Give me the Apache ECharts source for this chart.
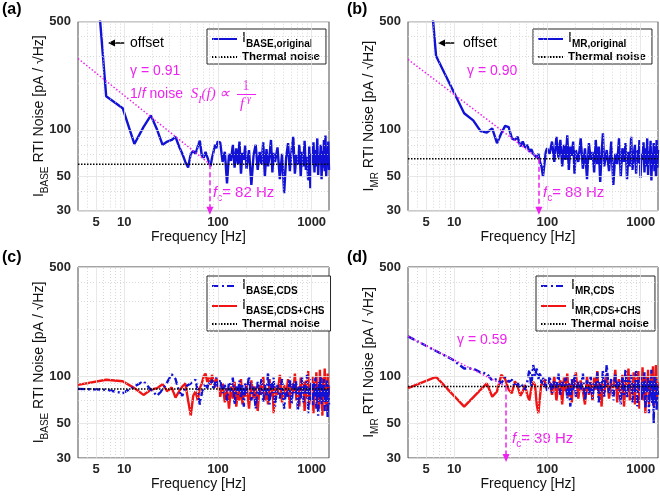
<!DOCTYPE html>
<html><head><meta charset="utf-8">
<script src="https://cdn.jsdelivr.net/npm/echarts@6/dist/echarts.min.js"></script>
<style>html,body{margin:0;padding:0;background:#fff}#c{width:660px;height:499px}</style>
</head><body><div id="c"></div>
<script>
// ---------- DATA ----------
const freq = [3.2,6.4,9.6,12.8,16,19.2,22.4,25.6,28.8,32,35.2,38.4,41.6,44.8,48,51.2,54.4,57.6,60.8,64,67.2,70.4,73.6,76.8,80,83.2,86.4,89.6,92.8,96,99.2,
105.6,112,118.4,124.8,131.2,137.6,144,150.4,156.8,163.2,169.6,176,182.4,188.8,195.2,201.6,
214.4,227.2,240,252.8,265.6,278.4,291.2,304,316.8,329.6,342.4,355.2,368,380.8,393.6,406.4,
432,457.6,483.2,508.8,534.4,560,585.6,611.2,636.8,662.4,688,713.6,739.2,764.8,790.4,816,841.6,867.2,892.8,918.4,944,969.6,995.2,1020.8,1046.4,1072,1097.6,1123.2,1148.8,1174.4,1200,1225.6,1251.2,1276.8,1302.4,1328,1353.6,1379.2,1404.8,1430.4,1456,1481.6,1507.2,1532.8];

const aOriginal = [30000,165,138,81,104,124,100,80,84,86,90,78,70,62,57,70,73,70,78,85,68,66,72,71,62,58,66,72,80,76,84,
83,62,72,45,70,63,80,57,76,60,84,52,71,64,79,56,
74,44,69,80,55,72,60,83,50,75,58,68,86,53,71,62,
77,48,70,39,66,82,54,74,90,52,69,60,80,50,72,58,85,55,67,47,78,42,70,61,83,53,74,58,88,51,69,62,80,48,73,57,86,54,92,50,72,59,84,55];

const bOriginal = [40000,300,182,128,115,98,96,102,82,95,106,104,88,86,90,78,84,77,80,72,75,70,72,66,70,62,58,50,60,72,76,
70,84,62,90,66,86,58,80,64,92,55,78,68,84,52,74,
62,88,56,76,48,82,64,72,53,86,60,78,46,70,95,58,
74,54,84,44,70,60,88,50,76,62,82,48,72,58,90,55,68,80,52,74,61,86,49,70,64,83,53,76,58,88,51,73,63,85,47,71,60,82,54,78,50,86,57,74];

const cCDS = [83,82,78,86,93,82,75,82,92,103,96,80,75,85,88,90,93,95,80,66,78,86,90,84,92,88,95,82,90,98,86,
95,78,88,70,92,80,98,66,86,76,94,72,88,64,90,78,
100,70,86,62,92,76,96,68,88,74,106,66,90,78,98,64,
88,72,96,62,84,74,100,66,90,78,94,60,86,72,98,68,88,76,102,58,84,70,96,64,90,74,98,62,86,56,92,72,100,66,88,78,96,60,84,70,94,54,88,66];

const cCHS = [88,95,93,84,76,82,84,89,80,85,73,80,86,90,70,56,75,80,70,84,90,100,104,92,98,88,102,94,85,97,90,
74,90,68,84,62,86,72,92,64,82,70,96,66,80,74,90,
62,94,72,86,60,88,76,100,70,84,66,96,74,90,58,86,
76,102,68,88,74,96,62,90,78,104,70,86,64,98,80,92,60,94,72,108,66,88,76,100,58,92,74,106,68,84,62,110,72,94,56,98,80,112,66,90,60,104,74,86];

const dCDS = [180,145,128,112,112,106,104,94,96,90,99,92,95,86,90,84,88,82,92,110,86,118,100,112,96,106,90,98,86,95,80,
100,78,94,84,104,76,92,86,98,72,90,64,96,80,102,74,
92,82,104,70,94,78,100,72,90,84,106,68,92,80,110,74,
118,78,96,70,104,82,92,66,100,76,112,72,94,84,102,68,90,78,108,64,96,82,100,70,92,76,106,62,88,80,98,58,94,74,110,66,90,50,102,72,96,60,88,76];

const dCHS = [84,99,null,64,null,null,90,74,80,102,96,82,78,93,86,75,80,88,76,70,84,92,88,66,58,74,92,88,96,84,90,
92,76,100,70,88,94,66,98,80,104,74,90,68,96,84,106,
72,94,80,66,100,76,92,70,98,82,108,74,90,64,96,78,
104,72,92,84,110,68,96,78,102,64,94,86,112,70,90,76,106,66,98,82,108,62,92,74,114,70,96,58,100,80,110,66,94,76,104,72,116,64,98,80,118,70,92,84];

const thermalLevels = [60, 65, 83, 86];
const fitA = [[3.2, 289], [82, 60]];
const fitB = [[3.2, 285], [81, 65]];
const fitD = [[3.2, 180], [36, 86]];
const fcMarkX = [82, 81, null, 36];
const fcLabels = ['= 82 Hz', '= 88 Hz', null, '= 39 Hz'];
const gammaLabels = ['γ = 0.91', 'γ = 0.90', null, 'γ = 0.59'];

const xTickValues = [5, 10, 100, 1000];
const xTickLabels = ['5', '10', '100', '1000'];
const xMinorValues = [4,6,7,8,9,20,30,40,50,60,70,80,90,200,300,400,500,600,700,800,900];
const yTickValues = [30, 50, 100, 500];
const yTickLabels = ['30', '50', '100', '500'];
const yMinorValues = [40,60,70,80,90,200,300,400];

const X_MIN = 3.2, X_MAX = 1532.8, Y_MIN = 30, Y_MAX = 500;

// ---------- STYLE ----------
const BLUE = '#1212d6', RED = '#f01414', MAG = '#ee22ee', INK = '#262626';
const FONT = 'Liberation Sans';

const panels = [
  {grid:{left:78, top:21.7, width:251, height:189}, sub:'BASE', legendPos:{left:207, top:29},
   series:[{name:'I_BASE,original', data:aOriginal, color:BLUE, dash:'solid'}], fit:fitA},
  {grid:{left:408, top:21.7, width:250, height:189}, sub:'MR', legendPos:{left:533, top:29},
   series:[{name:'I_MR,original', data:bOriginal, color:BLUE, dash:'solid'}], fit:fitB},
  {grid:{left:78, top:267, width:251, height:191}, sub:'BASE', legendPos:{left:207, top:276},
   series:[{name:'I_BASE,CDS+CHS', data:cCHS, color:RED, dash:'solid', z:3},
           {name:'I_BASE,CDS', data:cCDS, color:BLUE, dash:[7,3,2,3], z:4}], fit:null,
   legendOrder:['I_BASE,CDS','I_BASE,CDS+CHS']},
  {grid:{left:408, top:267, width:250, height:191}, sub:'MR', legendPos:{left:536, top:276},
   series:[{name:'I_MR,CDS+CHS', data:dCHS, color:RED, dash:'solid', z:3},
           {name:'I_MR,CDS', data:dCDS, color:BLUE, dash:[7,3,2,3], z:4}], fit:fitD,
   legendOrder:['I_MR,CDS','I_MR,CDS+CHS']}
];

const grids = [], xAxes = [], yAxes = [], series = [], legends = [];

function gridMarkData() {
  const d = [];
  xMinorValues.forEach(v => d.push({xAxis:v, lineStyle:{color:'#cfcfcf', type:[1,2], width:0.8}, label:{show:false}}));
  yMinorValues.forEach(v => d.push({yAxis:v, lineStyle:{color:'#cfcfcf', type:[1,2], width:0.8}, label:{show:false}}));
  xTickValues.forEach((v,k) => d.push({xAxis:v, lineStyle:{color:'#e2e2e2', type:'solid', width:0.8},
    label:{show:true, position:'start', distance:5, formatter:xTickLabels[k], color:INK, fontWeight:'bold', fontSize:13, fontFamily:FONT}}));
  yTickValues.forEach((v,k) => d.push({yAxis:v, lineStyle:{color:'#e2e2e2', type:'solid', width:0.8},
    label:{show:true, position:'start', distance:7, formatter:yTickLabels[k], color:INK, fontWeight:'bold', fontSize:13, fontFamily:FONT}}));
  return d;
}

const legendRich = {
  i:{fontSize:14, fontWeight:'normal', lineHeight:16, verticalAlign:'top', color:'#000', fontFamily:FONT},
  s:{fontSize:10, fontWeight:'bold', lineHeight:10, padding:[8,0,0,0], verticalAlign:'top', color:'#000', fontFamily:FONT},
  t:{fontSize:11.5, fontWeight:'bold', lineHeight:18, color:'#000', fontFamily:FONT}
};

panels.forEach((p, i) => {
  grids.push(Object.assign({show:true, borderColor:'#4a4a4a', borderWidth:1, backgroundColor:'#fff', containLabel:false}, p.grid));
  xAxes.push({type:'log', logBase:10, gridIndex:i, min:X_MIN, max:X_MAX,
    axisLine:{show:false}, axisTick:{show:false}, axisLabel:{show:false}, splitLine:{show:false},
    name:'Frequency [Hz]', nameLocation:'middle', nameGap:19,
    nameTextStyle:{fontSize:14, color:'#111', fontFamily:FONT, padding:[0,10,0,0]}});
  yAxes.push({type:'log', logBase:10, gridIndex:i, min:Y_MIN, max:Y_MAX,
    axisLine:{show:false}, axisTick:{show:false}, axisLabel:{show:false}, splitLine:{show:false},
    name:'{i|I}{s|' + p.sub + '}{t| RTI Noise [pA / √Hz]}', nameLocation:'middle', nameGap:30,
    nameTextStyle:{rich:{
      i:{fontSize:14, lineHeight:16, verticalAlign:'top', color:'#111', fontFamily:FONT},
      s:{fontSize:10, lineHeight:10, padding:[8,0,0,0], verticalAlign:'top', color:'#111', fontFamily:FONT},
      t:{fontSize:14, lineHeight:16, verticalAlign:'top', color:'#111', fontFamily:FONT}}}});

  // grid lines + tick labels
  series.push({type:'line', xAxisIndex:i, yAxisIndex:i, data:[[X_MIN, Y_MIN]], symbol:'none', silent:true, z:1,
    clip:false, lineStyle:{width:0}, tooltip:{show:false},
    markLine:{silent:true, symbol:['none','none'], animation:false, data:gridMarkData()}});

  p.series.forEach(s => {
    series.push({type:'line', name:s.name, xAxisIndex:i, yAxisIndex:i, z:s.z || 3,
      data:freq.map((f, k) => [f, s.data[k]]), symbol:'none', connectNulls:true,
      lineStyle:{color:s.color, width:2.4, type:s.dash}, itemStyle:{color:s.color}});
  });

  series.push({type:'line', name:'Thermal noise', xAxisIndex:i, yAxisIndex:i, z:6,
    data:[[X_MIN, thermalLevels[i]], [X_MAX, thermalLevels[i]]], symbol:'none',
    lineStyle:{color:'#000', width:1.5, type:[1.5,1.5]}, itemStyle:{color:'#000'}});

  if (p.fit) {
    series.push({type:'line', name:'fit' + i, xAxisIndex:i, yAxisIndex:i, z:5, data:p.fit, symbol:'none',
      lineStyle:{color:MAG, width:1.5, type:[1.5,2]}, itemStyle:{color:MAG},
      markLine:{silent:true, animation:false, symbol:['none','triangle'], symbolSize:[7,8],
        lineStyle:{color:MAG, width:1.5, type:[5,3]}, label:{show:false},
        data:[[{coord:[fcMarkX[i], thermalLevels[i]]}, {coord:[fcMarkX[i], Y_MIN]}]]}});
  }

  const names = (p.legendOrder || p.series.map(s => s.name)).concat(['Thermal noise']);
  legends.push({show:true, orient:'vertical', left:p.legendPos.left, top:p.legendPos.top,
    data:names, itemWidth:25, itemHeight:10, itemGap:2, padding:[2,6,1,4],
    backgroundColor:'#fff', borderColor:'#262626', borderWidth:1, borderRadius:0,
    selectedMode:false, inactiveColor:'#000', itemStyle:{opacity:0},
    formatter: n => n === 'Thermal noise' ? '{t|Thermal noise}' : '{i|' + n.split('_')[0] + '}{s|' + n.split('_')[1] + '}',
    textStyle:{rich:legendRich, fontWeight:'bold', fontSize:11.5, fontFamily:FONT}});
});

// ---------- annotations ----------
const graphic = [];
[['(a)',2,2],['(b)',347,2],['(c)',2,250],['(d)',347,250]].forEach(t => graphic.push(
  {type:'text', x:t[1], y:t[2], style:{text:t[0], font:'bold 16px ' + FONT, fill:'#000'}}));

[[108,125,130],[438,455,463]].forEach(o => {
  graphic.push({type:'line', shape:{x1:o[0]+5, y1:43, x2:o[1], y2:43}, style:{stroke:'#000', lineWidth:1.5}});
  graphic.push({type:'polygon', shape:{points:[[o[0],43],[o[0]+7,39.5],[o[0]+7,46.5]]}, style:{fill:'#000'}});
  graphic.push({type:'text', x:o[2], y:43, style:{text:'offset', font:'14px ' + FONT, fill:'#000', textVerticalAlign:'middle'}});
});

const gammaPos = [[130,71],[467,71],null,[457,340]];
const fcPos = [[213,193],[543,193],null,[512,439]];
gammaLabels.forEach((g, i) => {
  if (!g) return;
  graphic.push({type:'text', x:gammaPos[i][0], y:gammaPos[i][1], style:{text:g, font:'14px ' + FONT, fill:MAG, textVerticalAlign:'middle'}});
  graphic.push({type:'text', x:fcPos[i][0], y:fcPos[i][1], style:{
    text:'{it|f}{sb|c}{n|' + fcLabels[i] + '}', textVerticalAlign:'middle',
    rich:{it:{fontFamily:FONT, fontStyle:'italic', fontSize:15, lineHeight:16, verticalAlign:'top', fill:MAG},
          sb:{fontFamily:FONT, fontSize:10, lineHeight:10, padding:[8,0,0,0], verticalAlign:'top', fill:MAG},
          n:{fontFamily:FONT, fontSize:15, lineHeight:16, verticalAlign:'top', fill:MAG}}}});
});

// 1/f noise formula in (a)
graphic.push({type:'text', x:130, y:95, style:{
  text:'{n|1/}{it|f}{n| noise  }{s|S}{ss|I}{s|(f) ∝}', textVerticalAlign:'middle',
  rich:{n:{fontFamily:FONT, fontSize:14, lineHeight:16, verticalAlign:'top', fill:MAG},
        it:{fontFamily:FONT, fontStyle:'italic', fontSize:14, lineHeight:16, verticalAlign:'top', fill:MAG},
        s:{fontFamily:'Liberation Serif', fontStyle:'italic', fontSize:15, lineHeight:16, verticalAlign:'top', fill:MAG},
        ss:{fontFamily:'Liberation Serif', fontStyle:'italic', fontSize:10, lineHeight:10, padding:[8,0,0,0], verticalAlign:'top', fill:MAG}}}});
graphic.push({type:'text', x:246, y:86, style:{text:'1', font:'14px Liberation Serif', fill:MAG, textAlign:'center', textVerticalAlign:'middle'}});
graphic.push({type:'line', shape:{x1:237, y1:94.5, x2:256, y2:94.5}, style:{stroke:MAG, lineWidth:1}});
graphic.push({type:'text', x:240, y:104, style:{text:'f', font:'italic 15px Liberation Serif', fill:MAG, textVerticalAlign:'middle'}});
graphic.push({type:'text', x:247, y:99, style:{text:'γ', font:'italic 10px Liberation Serif', fill:MAG, textVerticalAlign:'middle'}});

const chart = echarts.init(document.getElementById('c'), null, {renderer:'canvas'});
chart.setOption({
  animation:false, backgroundColor:'#fff',
  textStyle:{fontFamily:FONT},
  grid:grids, xAxis:xAxes, yAxis:yAxes, series:series, legend:legends, graphic:graphic
});
</script>
</body></html>
